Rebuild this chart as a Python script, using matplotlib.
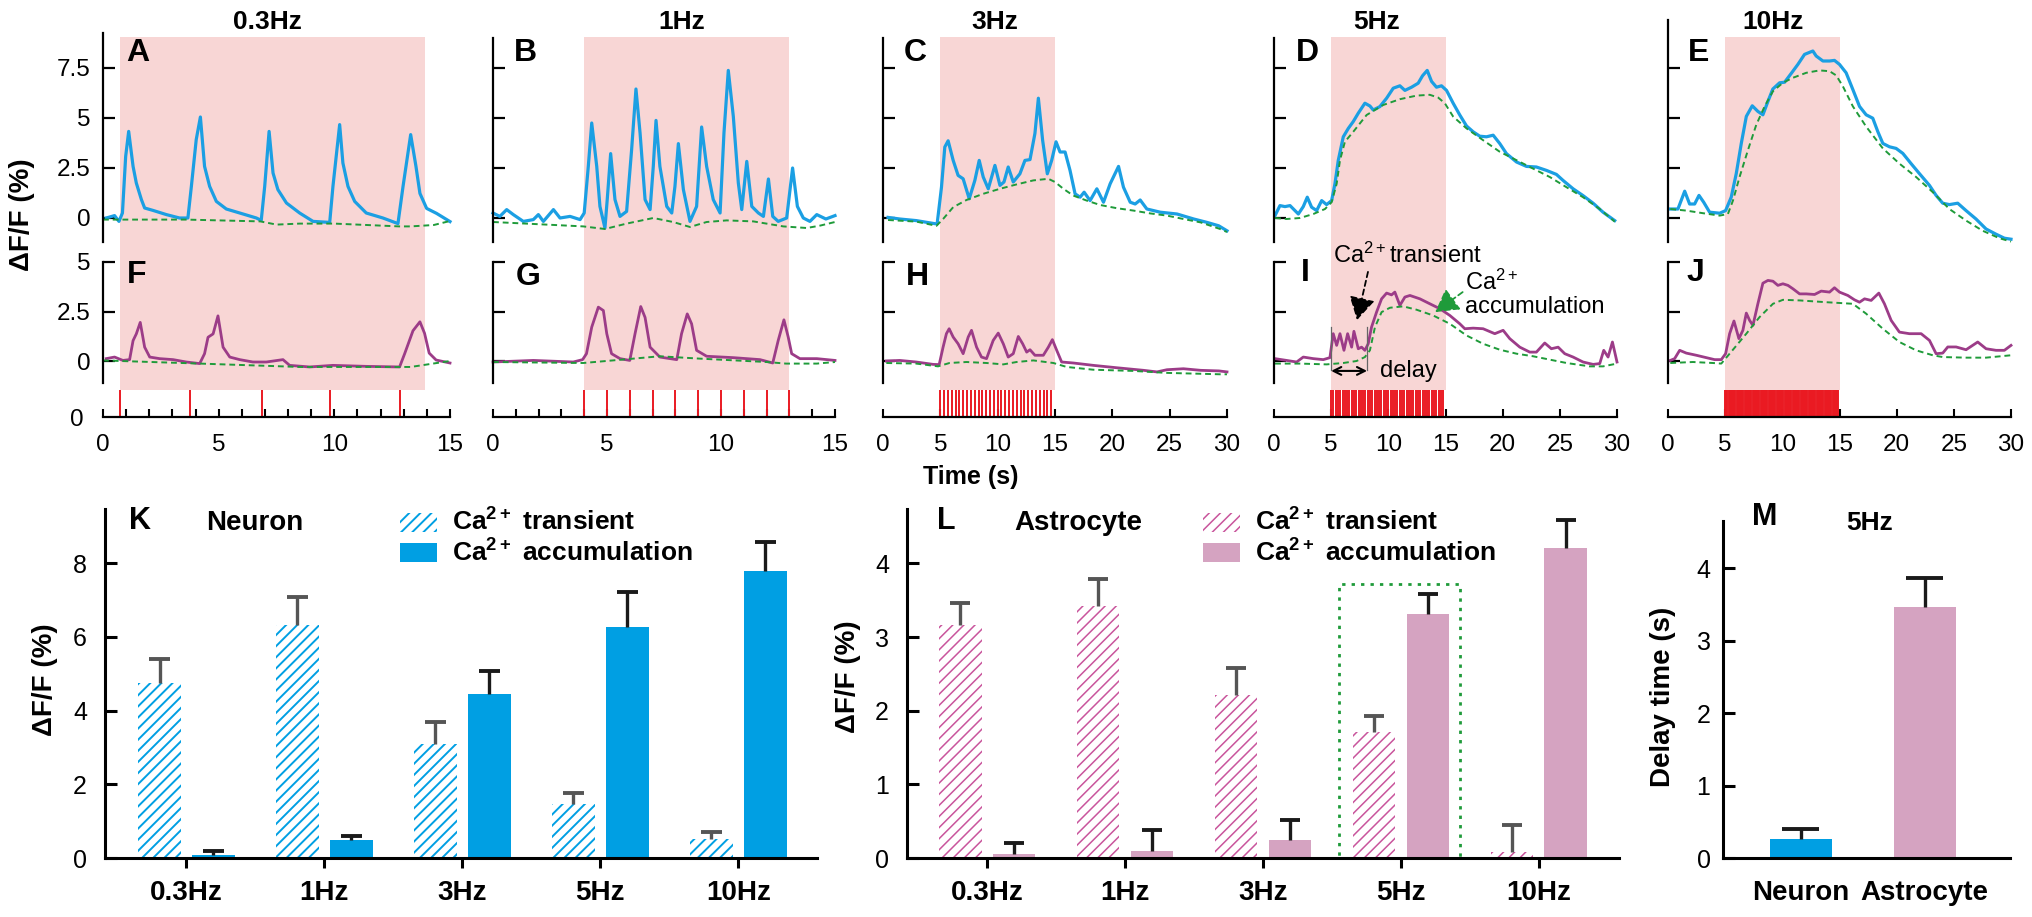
import numpy as np
import matplotlib
matplotlib.use('Agg')
import matplotlib.pyplot as plt
from matplotlib.patches import Rectangle
from matplotlib.ticker import MultipleLocator

plt.rcParams['font.family'] = ['Liberation Sans', 'DejaVu Sans']
plt.rcParams['mathtext.fontset'] = 'custom'
plt.rcParams['mathtext.rm'] = 'Liberation Sans'
plt.rcParams['mathtext.bf'] = 'Liberation Sans:bold'
plt.rcParams['mathtext.default'] = 'rm'

# ---------------- traces (time s, dF/F %) ----------------
a_t = [0.14, 0.5, 0.69, 0.84, 0.98, 1.11, 1.30, 1.44, 1.66, 1.80, 2.16, 2.74, 3.31, 3.67, 3.82,
       4.03, 4.21, 4.39, 4.61, 4.90, 5.33, 5.91, 6.63, 6.84, 6.99, 7.18, 7.35, 7.56, 7.93, 8.50,
       9.08, 9.80, 9.94, 10.23, 10.37, 10.59, 10.88, 11.38, 12.10, 12.75, 12.97, 13.30, 13.53,
       13.70, 13.99, 14.42, 15.0]
a_v = [0, 0.12, -0.17, 0.25, 3.08, 4.33, 2.58, 1.75, 0.92, 0.5, 0.38, 0.17, 0, 0, 1.58,
       3.92, 5.05, 2.58, 1.58, 0.83, 0.45, 0.25, 0, -0.12, 1.58, 4.33, 2.25, 1.42, 0.75, 0.25,
       -0.17, -0.22, 1.58, 4.67, 2.75, 1.58, 0.83, 0.25, 0, -0.28, 1.58, 4.17, 2.57,
       1.23, 0.48, 0.23, -0.18]
a_fit_t = [0, 3.6, 6.8, 7.5, 8.5, 10.0, 12.8, 13.3, 14.3, 15.0]
a_fit_v = [-0.08, -0.08, -0.17, -0.33, -0.28, -0.28, -0.42, -0.42, -0.35, -0.15]

b_t = [0, 0.3, 0.6, 0.89, 1.33, 1.77, 1.99, 2.21, 2.65, 2.94, 3.38, 3.82, 4.0, 4.18, 4.33, 4.55,
       4.69, 4.91, 5.01, 5.16, 5.35, 5.57, 5.86, 6.08, 6.27, 6.45, 6.67, 6.89, 7.03, 7.15, 7.32,
       7.62, 7.84, 7.98, 8.13, 8.35, 8.64, 8.93, 9.15, 9.37, 9.66, 9.96, 10.13, 10.32, 10.54,
       10.76, 10.91, 11.13, 11.35, 11.64, 11.86, 12.08, 12.27, 12.51, 12.88, 13.14, 13.35,
       13.61, 13.9, 14.2, 14.6, 15.0]
b_v = [0.25, 0.08, 0.42, 0.17, -0.17, -0.08, 0.17, -0.17, 0.42, 0.0, 0.08, -0.08, 0.25, 2.58,
       4.75, 2.58, 0.58, -0.5, 0.92, 3.22, 0.92, 0.08, 0.33, 3.42, 6.45, 4.25, 0.92, 0.42, 2.58,
       4.88, 2.58, 0.58, 0.25, 1.58, 3.72, 1.42, -0.17, 0.58, 4.55, 2.58, 0.92, 0.25, 4.25, 7.38,
       5.08, 1.75, 0.42, 2.83, 0.58, 0.25, 0.08, 1.95, 0.08, -0.17, 0.0, 2.5, 0.58, 0.0, -0.17,
       0.17, -0.05, 0.12]
b_fit_t = [0, 3.96, 4.91, 5.86, 7.03, 7.9, 8.64, 9.37, 10.25, 11.42, 12.73, 13.76, 14.35, 15.0]
b_fit_v = [-0.2, -0.42, -0.55, -0.28, 0.0, -0.2, -0.45, -0.2, -0.12, -0.17, -0.42, -0.5, -0.38, -0.2]

c_t = [0.44, 1.46, 2.9, 4.37, 4.72, 5.1, 5.39, 5.68, 6.12, 6.55, 6.99, 7.52, 8.01, 8.39, 8.74,
       9.18, 9.76, 10.2, 10.55, 10.92, 11.36, 11.94, 12.38, 12.82, 13.25, 13.55, 13.92, 14.33,
       14.71, 15.09, 15.44, 15.88, 16.31, 16.75, 17.19, 17.54, 18.06, 18.65, 19.23, 19.81,
       20.54, 20.97, 21.56, 21.99, 22.43, 23.01, 24.18, 25.64, 27.1, 28.26, 29.28, 30.0]
c_v = [0.03, -0.05, -0.13, -0.27, -0.3, 1.54, 3.55, 3.86, 2.88, 2.13, 1.96, 0.96, 1.88, 2.88,
       2.05, 1.46, 2.63, 1.63, 1.8, 2.55, 1.8, 2.21, 2.88, 2.92, 4.23, 5.99, 3.89, 2.21, 2.88,
       3.81, 3.3, 3.3, 2.38, 1.21, 1.04, 1.29, 0.87, 1.46, 0.79, 1.71, 2.58, 1.54, 0.79, 0.7,
       0.9, 0.45, 0.29, 0.2, -0.05, -0.22, -0.39, -0.64]
c_fit_t = [0.44, 2.9, 4.66, 5.24, 6.12, 7.28, 8.74, 10.2, 11.65, 13.11, 14.42, 15.0, 15.73, 16.6,
           17.77, 18.94, 20.39, 21.85, 23.3, 24.76, 26.2, 27.7, 29.4, 30.0]
c_fit_v = [-0.1, -0.18, -0.39, -0.05, 0.54, 0.9, 1.21, 1.46, 1.68, 1.88, 1.96, 1.8, 1.46, 1.12,
           0.87, 0.65, 0.49, 0.37, 0.23, 0.12, -0.05, -0.22, -0.55, -0.7]

d_t = [0.09, 0.52, 0.96, 1.4, 2.13, 2.56, 2.91, 3.29, 3.73, 4.17, 4.6, 5.04, 5.33, 5.62, 6.06,
       6.5, 6.93, 7.37, 7.95, 8.39, 8.68, 9.26, 9.85, 10.43, 11.01, 11.45, 12.03, 12.61, 12.99,
       13.4, 13.78, 14.21, 14.65, 15.09, 15.67, 16.25, 16.84, 17.42, 18.0, 18.58, 19.17, 19.75,
       20.33, 21.21, 22.08, 22.95, 23.83, 24.7, 25.28, 26.16, 27.03, 27.91, 28.78, 29.8]
d_v = [0.12, 0.62, 0.57, 0.62, 0.2, 0.57, 1.04, 0.54, 0.37, 0.87, 0.67, 0.87, 1.71, 2.88, 4.06,
       4.48, 4.82, 5.24, 5.74, 5.6, 5.4, 5.57, 5.99, 6.49, 6.61, 6.38, 6.54, 6.74, 7.11, 7.38,
       6.83, 6.54, 6.61, 6.38, 5.74, 5.15, 4.6, 4.31, 4.09, 4.06, 4.14, 3.72, 3.22, 2.8, 2.58,
       2.55, 2.38, 2.18, 1.88, 1.46, 1.12, 0.74, 0.29, -0.13]
d_fit_t = [0.09, 1.1, 2.27, 3.44, 4.46, 5.04, 5.48, 5.77, 6.2, 6.93, 8.1, 9.55, 11.01, 12.47,
           13.63, 14.36, 14.94, 15.67, 16.84, 18.29, 19.75, 21.21, 22.66, 24.12, 25.58, 27.03,
           28.49, 29.8]
d_fit_v = [0.0, -0.05, 0.0, 0.2, 0.45, 0.79, 1.71, 2.88, 3.81, 4.31, 5.15, 5.65, 5.94, 6.12,
           6.16, 6.02, 5.74, 5.07, 4.48, 3.89, 3.31, 2.89, 2.47, 2.05, 1.54, 1.04, 0.45, -0.18]

e_t = [0.2, 0.87, 1.46, 1.89, 2.33, 2.71, 3.12, 3.64, 4.52, 5.04, 5.53, 5.97, 6.41, 6.85, 7.37,
       7.86, 8.3, 8.74, 9.17, 9.76, 10.2, 10.78, 11.36, 11.94, 12.67, 12.96, 13.55, 14.13,
       14.56, 15.0, 15.58, 16.17, 16.75, 17.33, 17.91, 18.35, 18.79, 19.37, 19.95, 20.54,
       21.26, 21.99, 22.87, 23.45, 24.03, 24.61, 25.34, 26.07, 26.94, 27.82, 28.69, 29.42, 30.0]
e_v = [0.45, 0.45, 1.34, 0.7, 0.7, 1.13, 0.79, 0.29, 0.24, 0.37, 1.04, 2.22, 3.73, 5.08, 5.61,
       5.33, 5.16, 5.83, 6.45, 6.76, 6.79, 7.23, 7.68, 8.18, 8.35, 8.1, 7.85, 7.85, 7.88, 7.68,
       7.26, 6.42, 5.58, 5.16, 4.99, 4.32, 3.73, 3.56, 3.48, 3.23, 2.72, 2.22, 1.63, 1.13, 0.74,
       0.67, 0.74, 0.37, -0.05, -0.55, -0.81, -1.01, -1.06]
e_fit_t = [0.2, 1.6, 3.06, 4.52, 5.24, 5.68, 6.26, 6.99, 7.72, 8.45, 9.18, 10.05, 10.92, 12.09,
           13.25, 14.13, 14.71, 15.29, 16.17, 17.33, 18.79, 20.24, 21.7, 23.16, 24.61, 26.07,
           27.53, 28.98, 30.0]
e_fit_v = [0.45, 0.37, 0.24, 0.12, 0.2, 0.87, 2.05, 3.39, 4.66, 5.58, 6.34, 6.76, 7.01, 7.26,
           7.38, 7.34, 7.13, 6.59, 5.58, 4.57, 3.48, 2.72, 2.05, 1.29, 0.45, -0.13, -0.64,
           -1.01, -1.18]

f_t = [0.14, 0.5, 0.86, 1.15, 1.30, 1.44, 1.61, 1.80, 2.02, 2.45, 3.03, 3.60, 4.18, 4.39, 4.54,
       4.76, 4.97, 5.19, 5.48, 5.91, 6.48, 7.06, 7.78, 8.07, 8.93, 9.94, 11.38, 12.82, 13.04,
       13.40, 13.70, 13.90, 14.10, 14.40, 15.0]
f_v = [0.12, 0.2, 0.03, 0.07, 1.03, 1.37, 1.95, 0.7, 0.2, 0.12, 0.07, -0.05, -0.13, 0.37, 1.2,
       1.37, 2.28, 0.7, 0.2, 0.07, -0.05, -0.05, 0.07, -0.22, -0.3, -0.22, -0.27, -0.3, 0.37,
       1.53, 1.98, 1.4, 0.4, 0.05, -0.1]
f_fit_t = [0, 4.2, 8.5, 12.8, 13.3, 15.0]
f_fit_v = [0.03, -0.13, -0.3, -0.3, -0.3, 0.0]

g_t = [0, 1.77, 3.52, 3.93, 4.1, 4.33, 4.62, 4.84, 4.99, 5.2, 5.57, 6.0, 6.23, 6.48, 6.67, 6.89,
       7.32, 8.06, 8.27, 8.52, 8.71, 8.93, 9.37, 10.54, 11.71, 12.27, 12.51, 12.76, 12.95, 13.1,
       13.46, 14.2, 15.0]
g_v = [-0.05, 0.03, -0.05, 0.07, 0.37, 1.71, 2.72, 2.55, 1.38, 0.37, 0.12, 0.03, 1.38, 2.75,
       2.2, 0.7, 0.2, 0.07, 1.38, 2.38, 1.88, 0.54, 0.24, 0.17, 0.07, -0.1, 1.04, 2.08, 1.2,
       0.37, 0.12, 0.12, 0.03]
g_fit_t = [0, 3.96, 6.15, 7.32, 9.08, 12.0, 12.85, 14.2, 15.0]
g_fit_v = [-0.05, -0.1, 0.12, 0.24, 0.12, -0.05, -0.13, -0.13, -0.05]

h_t = [0.29, 1.46, 2.9, 4.37, 4.9, 5.24, 5.53, 5.77, 6.12, 6.55, 6.99, 7.43, 7.72, 8.16, 8.59,
       9.03, 9.61, 10.05, 10.49, 10.92, 11.36, 11.8, 12.18, 12.53, 12.82, 13.25, 13.98, 14.42,
       14.77, 15.15, 15.58, 16.6, 18.35, 20.39, 22.72, 23.89, 24.76, 26.2, 27.7, 29.3, 30.0]
h_v = [0.0, 0.03, -0.05, -0.17, -0.18, 0.7, 1.38, 1.63, 1.21, 0.87, 0.37, 1.21, 1.55, 0.7, 0.2,
       0.12, 1.04, 1.41, 0.87, 0.2, 0.37, 1.24, 0.87, 0.45, 0.57, 0.29, 0.29, 0.7, 1.08, 0.54,
       -0.05, -0.1, -0.22, -0.34, -0.47, -0.55, -0.44, -0.39, -0.47, -0.5, -0.55]
h_fit_t = [0.29, 2.9, 4.8, 5.8, 7.28, 9.03, 10.49, 11.65, 13.11, 14.86, 16.02, 18.35, 21.85,
           24.76, 29.4, 30.0]
h_fit_v = [-0.1, -0.13, -0.27, -0.1, -0.05, -0.1, -0.17, -0.05, 0.03, -0.1, -0.3, -0.44, -0.5,
           -0.6, -0.67, -0.67]

i_t = [0.09, 1.1, 1.98, 2.56, 3.44, 4.31, 4.89, 5.18, 5.48, 5.77, 6.12, 6.44, 6.79, 6.99, 7.37,
       7.66, 7.95, 8.24, 8.53, 8.97, 9.41, 9.85, 10.28, 10.57, 11.01, 11.45, 11.89, 12.76, 13.63,
       14.51, 15.38, 16.25, 16.69, 17.42, 18.29, 19.31, 20.04, 20.62, 21.5, 22.37, 22.95, 23.68,
       24.26, 24.85, 25.43, 26.16, 27.03, 27.91, 28.49, 28.84, 29.22, 29.6, 30.0]
i_v = [0.12, 0.03, -0.05, 0.2, 0.12, 0.07, 0.17, 1.38, 0.79, 1.38, 0.54, 1.38, 0.7, 1.5, 0.62,
       0.7, 0.54, 0.87, 1.71, 2.47, 3.14, 3.43, 3.34, 3.48, 2.81, 3.23, 3.31, 3.14, 2.89, 2.64,
       2.3, 1.88, 1.63, 1.66, 1.63, 1.38, 1.55, 1.13, 0.7, 0.45, 0.45, 0.91, 0.62, 0.7, 0.37,
       0.2, -0.05, -0.17, -0.13, 0.54, 0.2, 0.96, -0.05]
i_fit_t = [0.09, 2.27, 4.6, 6.06, 7.22, 7.95, 8.39, 8.83, 9.41, 10.14, 11.3, 12.47, 13.92, 15.38,
           16.84, 18.29, 19.75, 21.21, 22.66, 24.12, 25.58, 27.61, 28.78, 30.0]
i_fit_v = [-0.13, -0.13, -0.17, -0.1, 0.0, 0.2, 0.54, 1.71, 2.47, 2.69, 2.76, 2.59, 2.3, 1.88,
           1.29, 0.87, 0.57, 0.37, 0.24, 0.07, -0.1, -0.27, -0.27, -0.13]

j_t = [0.2, 0.58, 1.02, 1.6, 2.48, 3.35, 4.08, 4.66, 5.04, 5.39, 5.77, 6.2, 6.55, 6.85, 7.14,
       7.43, 7.86, 8.3, 8.74, 9.18, 9.61, 10.05, 10.49, 10.92, 11.51, 12.09, 12.82, 13.4, 14.13,
       14.56, 15.0, 15.73, 16.31, 16.75, 17.19, 17.77, 18.44, 18.93, 19.52, 20.24, 21.12, 22.14,
       22.87, 23.45, 24.03, 24.47, 25.2, 26.07, 27.09, 27.82, 28.69, 29.42, 30.0]
j_v = [0.03, 0.12, 0.54, 0.4, 0.29, 0.17, 0.07, 0.07, 0.37, 1.38, 2.02, 1.13, 1.55, 2.42, 2.05,
       1.8, 2.89, 3.93, 4.07, 4.03, 3.82, 3.9, 3.82, 3.65, 3.39, 3.39, 3.36, 3.53, 3.48, 3.7,
       3.48, 3.31, 3.09, 2.97, 3.14, 3.06, 3.43, 2.89, 2.05, 1.46, 1.38, 1.38, 1.04, 0.37, 0.4,
       0.71, 0.71, 0.57, 0.96, 0.62, 0.54, 0.54, 0.79]
j_fit_t = [0.2, 2.18, 3.93, 4.66, 5.68, 6.85, 8.01, 9.18, 10.05, 11.51, 13.84, 16.17, 17.33,
           18.79, 20.24, 21.7, 23.16, 24.03, 26.07, 27.82, 30.0]
j_fit_v = [-0.1, -0.05, -0.1, -0.13, 0.57, 1.38, 2.22, 2.89, 3.09, 3.06, 2.97, 2.89, 2.39, 1.63,
           0.96, 0.54, 0.29, 0.2, 0.17, 0.17, 0.29]

freq_titles = ['0.3Hz', '1Hz', '3Hz', '5Hz', '10Hz']
stim_03 = [0.73, 3.77, 6.87, 9.8, 12.85]
stim_1 = [4, 5, 6, 7, 8, 9, 10, 11, 12, 13]
train_rates = [3, 5, 10]  # Hz, trains from 5 s to 15 s
pink_on = [0.73, 4.0, 5, 5, 5]
pink_off = [13.9, 13.0, 15, 15, 15]

# ---------------- bar data ----------------
cats = ['0.3Hz', '1Hz', '3Hz', '5Hz', '10Hz']
k_trans = [4.75, 6.32, 3.09, 1.47, 0.52]
k_trans_err = [0.65, 0.76, 0.60, 0.29, 0.18]
k_acc = [0.08, 0.49, 4.45, 6.28, 7.80]
k_acc_err = [0.11, 0.11, 0.62, 0.94, 0.78]
l_trans = [3.16, 3.42, 2.21, 1.71, 0.08]
l_trans_err = [0.31, 0.37, 0.37, 0.22, 0.37]
l_acc = [0.06, 0.09, 0.24, 3.31, 4.21]
l_acc_err = [0.14, 0.29, 0.28, 0.27, 0.38]
m_cats = ['Neuron', 'Astrocyte']
m_vals = [0.26, 3.47]
m_err = [0.14, 0.40]

# colours
blue_line = '#1b9fe3'
purple_line = '#9c3c88'
green = '#1f9b3a'
pink_bg = '#f8d6d5'
red_stim = '#ea1a22'
blue_bar = '#009fe3'
pink_bar = '#d5a3c1'
pink_hatch = '#c9559c'

W, H = 2032, 917
fig = plt.figure(figsize=(W / 100, H / 100), dpi=100)


def box(x0, y0, x1, y1):
    return fig.add_axes([x0 / W, 1 - y1 / H, (x1 - x0) / W, (y1 - y0) / H])


def ftext(x, y, s, **kw):
    kw.setdefault('ha', 'center')
    kw.setdefault('va', 'center')
    return fig.text(x / W, 1 - y / H, s, **kw)


def trace_style(ax, ticks, labels):
    ax.patch.set_alpha(0)
    for s in ['top', 'right', 'bottom']:
        ax.spines[s].set_visible(False)
    ax.spines['left'].set_linewidth(1.6)
    ax.set_xticks([])
    ax.set_yticks(ticks)
    ax.tick_params(axis='y', direction='in', length=8.5, width=1.6, labelsize=17.5, pad=9)
    if labels:
        ax.set_yticklabels(labels)
    else:
        ax.set_yticklabels([])


# ---------------- top traces ----------------
col_x0 = [103, 493, 883, 1274, 1668]
col_x1 = [450, 835, 1227, 1617, 2011]
col_tmax = [15, 15, 30, 30, 30]
col_top = [33, 38, 38, 38, 20]
title_x = [267, 682, 995, 1377, 1773]
top_letter_xy = [(138, 53, 'A'), (525, 53, 'B'), (915, 53, 'C'), (1307, 53, 'D'), (1699, 53, 'E')]
mid_letter_xy = [(137, 275, 'F'), (528, 277, 'G'), (917, 277, 'H'), (1305, 273, 'I'), (1695, 273, 'J')]

neu = [(a_t, a_v, a_fit_t, a_fit_v), (b_t, b_v, b_fit_t, b_fit_v), (c_t, c_v, c_fit_t, c_fit_v),
       (d_t, d_v, d_fit_t, d_fit_v), (e_t, e_v, e_fit_t, e_fit_v)]
ast = [(f_t, f_v, f_fit_t, f_fit_v), (g_t, g_v, g_fit_t, g_fit_v), (h_t, h_v, h_fit_t, h_fit_v),
       (i_t, i_v, i_fit_t, i_fit_v), (j_t, j_v, j_fit_t, j_fit_v)]
stims = [stim_03, stim_1] + [np.arange(5, 15, 1.0 / r) for r in train_rates]

mids = []
for c in range(5):
    x0, x1, tmax = col_x0[c], col_x1[c], col_tmax[c]
    bg = box(x0, 37, x1, 390)
    bg.set_xlim(0, tmax)
    bg.axis('off')
    bg.axvspan(pink_on[c], pink_off[c], color=pink_bg, lw=0)

    top = box(x0, col_top[c], x1, 242)
    top.set_xlim(0, tmax)
    top.set_ylim(-1.2, (218 - col_top[c]) / 20)
    trace_style(top, [0, 2.5, 5, 7.5], ['0', '2.5', '5', '7.5'] if c == 0 else None)
    t, v, ft, fv = neu[c]
    top.plot(t, v, color=blue_line, lw=2.3, solid_joinstyle='round', clip_on=False)
    top.plot(ft, fv, color=green, lw=1.4, ls=(0, (3, 2)), clip_on=False)

    mid = box(x0, 262, x1, 383)
    mid.set_xlim(0, tmax)
    mid.set_ylim(-1.11, 5.0)
    trace_style(mid, [0, 2.5, 5], ['0', '2.5', '5'] if c == 0 else None)
    t, v, ft, fv = ast[c]
    mid.plot(t, v, color=purple_line, lw=2.0, solid_joinstyle='round', clip_on=False)
    mid.plot(ft, fv, color=green, lw=1.4, ls=(0, (3, 2)), clip_on=False)
    mids.append(mid)

    st = box(x0, 390, x1, 417)
    st.patch.set_alpha(0)
    st.set_xlim(0, tmax)
    st.set_ylim(0, 1)
    st.vlines(stims[c], 0, 1, color=red_stim, lw=1.4)
    for s in ['top', 'right', 'left']:
        st.spines[s].set_visible(False)
    st.spines['bottom'].set_linewidth(1.6)
    st.xaxis.set_major_locator(MultipleLocator(5))
    if tmax == 15:
        st.xaxis.set_minor_locator(MultipleLocator(1))
    st.tick_params(axis='x', which='both', direction='in', length=6, width=1.5,
                   labelsize=17.5, pad=12)
    if c == 0:
        st.set_yticks([0])
        st.set_yticklabels(['0'])
        st.tick_params(axis='y', length=0, labelsize=17.5, pad=14)
    else:
        st.set_yticks([])

    ftext(title_x[c], 22, freq_titles[c], fontsize=19, fontweight='bold')
    lx, ly, lt = top_letter_xy[c]
    ftext(lx, ly, lt, fontsize=23, fontweight='bold')
    lx, ly, lt = mid_letter_xy[c]
    ftext(lx, ly, lt, fontsize=23, fontweight='bold')

ftext(22, 215, 'ΔF/F (%)', fontsize=20, fontweight='bold', rotation=90)
ftext(971, 477, 'Time (s)', fontsize=18, fontweight='bold')

# annotations in I
ax_i = mids[3]
ax_i.text(5.16, 5.35, r'Ca$^{2+}$transient', fontsize=17, ha='left', va='center')
ax_i.annotate('', xy=(7.26, 2.07), xytext=(8.22, 4.5),
              arrowprops=dict(arrowstyle='-|>,head_length=0.7,head_width=0.4', color='k', lw=1.3,
                              ls=(0, (3, 2)), mutation_scale=20, shrinkA=0, shrinkB=0))
ax_i.text(16.7, 3.95, r'Ca$^{2+}$', fontsize=17, ha='left', va='center')
ax_i.text(16.7, 2.73, 'accumulation', fontsize=17, ha='left', va='center')
ax_i.annotate('', xy=(14.1, 2.47), xytext=(16.5, 3.48),
              arrowprops=dict(arrowstyle='-|>,head_length=0.7,head_width=0.4', color=green, lw=1.3,
                              ls=(0, (3, 2)), mutation_scale=20, shrinkA=0, shrinkB=0))
ax_i.plot([5.0, 5.0], [-0.47, 1.71], color='#666666', lw=0.9)
ax_i.plot([8.14, 8.14], [-0.47, 1.71], color='#666666', lw=0.9)
ax_i.annotate('', xy=(5.0, -0.5), xytext=(8.14, -0.5),
              arrowprops=dict(arrowstyle='<->', color='k', lw=1.5, mutation_scale=14,
                              shrinkA=0, shrinkB=0))
ax_i.text(9.27, -0.5, 'delay', fontsize=17, ha='left', va='center')


# ---------------- bar charts ----------------
def bar_style(ax, ylabels_pad=13):
    ax.patch.set_alpha(0)
    for s in ['top', 'right']:
        ax.spines[s].set_visible(False)
    for s in ['left', 'bottom']:
        ax.spines[s].set_linewidth(2.2)
    ax.tick_params(axis='y', direction='in', length=8.5, width=2.2, labelsize=18,
                   pad=ylabels_pad)
    ax.tick_params(axis='x', direction='out', length=7, width=2.2, labelsize=20, pad=9)
    for lab in ax.get_xticklabels():
        lab.set_fontweight('bold')


def upper_err(ax, x, vals, errs, color, half):
    x = np.asarray(x, dtype=float)
    tops = np.asarray(vals) + np.asarray(errs)
    ax.vlines(x, vals, tops, color=color, lw=2.4)
    ax.hlines(tops, x - half, x + half, color=color, lw=2.8)


def pair_bars(ax, trans, trans_err, acc, acc_err, color, hatch_color, hatch_lw):
    x = np.arange(len(cats))
    plt.rcParams['hatch.linewidth'] = hatch_lw
    ax.bar(x - 0.195, trans, 0.31, facecolor='white', edgecolor=hatch_color, hatch='///', lw=0)
    ax.bar(x + 0.195, acc, 0.31, color=color, lw=0)
    upper_err(ax, x - 0.195, trans, trans_err, '#555555', 0.075)
    upper_err(ax, x + 0.195, acc, acc_err, '#1a1a1a', 0.075)
    ax.set_xticks(x, cats)


def legend_patches(x0, color, hatch_color):
    r1 = Rectangle((x0 / W, 1 - 532 / H), 37 / W, 19 / H, transform=fig.transFigure,
                   facecolor='white', edgecolor=hatch_color, hatch='///', lw=0)
    r2 = Rectangle((x0 / W, 1 - 562 / H), 37 / W, 19 / H, transform=fig.transFigure,
                   facecolor=color, lw=0)
    fig.add_artist(r1)
    fig.add_artist(r2)
    ftext(x0 + 52, 522, r'Ca$^{\mathbf{2+}}$ transient', fontsize=19, fontweight='bold', ha='left')
    ftext(x0 + 52, 553, r'Ca$^{\mathbf{2+}}$ accumulation', fontsize=19, fontweight='bold', ha='left')


# K
k = box(105, 509, 817, 858)
pair_bars(k, k_trans, k_trans_err, k_acc, k_acc_err, blue_bar, blue_bar, 1.4)
k.set_xlim(-0.59, 4.57)
k.set_ylim(0, 9.47)
k.set_yticks([0, 2, 4, 6, 8])
bar_style(k)
legend_patches(400, blue_bar, blue_bar)
ftext(140, 521, 'K', fontsize=22, fontweight='bold')
ftext(255, 523, 'Neuron', fontsize=20, fontweight='bold')
ftext(45, 680, 'ΔF/F (%)', fontsize=20, fontweight='bold', rotation=90)

# L
l = box(907, 509, 1619, 858)
pair_bars(l, l_trans, l_trans_err, l_acc, l_acc_err, pink_bar, pink_hatch, 1.1)
l.set_xlim(-0.58, 4.58)
l.set_ylim(0, 4.74)
l.set_yticks([0, 1, 2, 3, 4])
bar_style(l)
l.add_patch(Rectangle((2.55, 0), 0.88, 3.72, fill=False, edgecolor=green, lw=2,
                      ls=(0, (1.2, 2.2)), clip_on=False))
legend_patches(1203, pink_bar, pink_hatch)
ftext(946, 521, 'L', fontsize=22, fontweight='bold')
ftext(1078, 523, 'Astrocyte', fontsize=20, fontweight='bold')
ftext(848, 677, 'ΔF/F (%)', fontsize=20, fontweight='bold', rotation=90)

# M
m = box(1723, 521, 2010, 858)
m.bar([0, 1], m_vals, 0.5, color=[blue_bar, pink_bar], lw=0)
upper_err(m, [0, 1], m_vals, m_err, '#1a1a1a', 0.15)
m.set_xticks([0, 1], m_cats)
m.set_xlim(-0.63, 1.69)
m.set_ylim(0, 4.65)
m.set_yticks([0, 1, 2, 3, 4])
bar_style(m, ylabels_pad=9)
m.tick_params(axis='x', length=0, pad=16)
ftext(1765, 517, 'M', fontsize=22, fontweight='bold')
ftext(1870, 523, '5Hz', fontsize=19, fontweight='bold')
ftext(1663, 697, 'Delay time (s)', fontsize=20, fontweight='bold', rotation=90)

fig.savefig('out.png', dpi=100)
